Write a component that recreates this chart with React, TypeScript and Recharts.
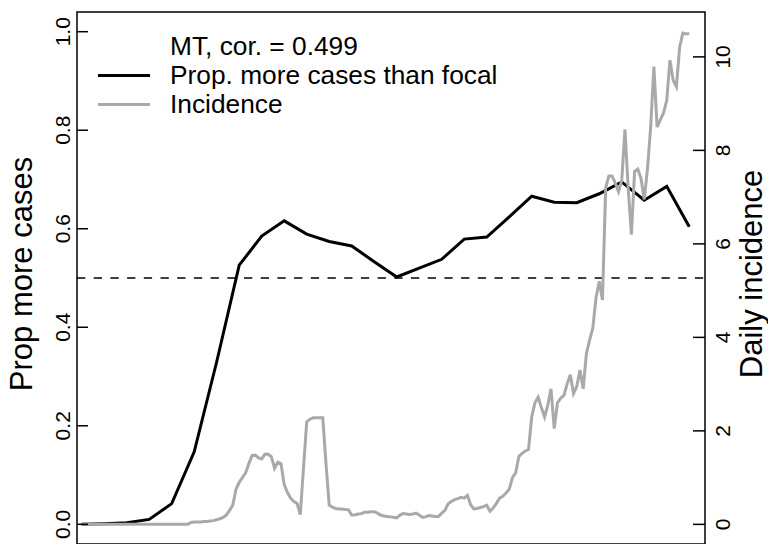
import { ComposedChart, Line, ReferenceArea, ReferenceLine, XAxis, YAxis } from "recharts";

const FONT = "'Liberation Sans', Arial, Helvetica, sans-serif";

// weekly proportion of neighbours with more cases than the focal unit
const propWeeks = [0, 7, 14, 21, 28, 35, 42, 49, 56, 63, 70, 77, 84, 91, 98, 105, 112, 119, 126, 133, 140, 147, 154, 161, 168, 175, 182, 189];
const propMore = [
  0, 0.001, 0.003, 0.01, 0.042, 0.147, 0.33, 0.526, 0.585, 0.616, 0.589, 0.574, 0.565, 0.533,
  0.502, 0.52, 0.538, 0.579, 0.583, 0.624, 0.666, 0.654, 0.653, 0.671, 0.695, 0.658, 0.686, 0.604,
];

// daily incidence, one value per day from day 0
const incidence = [
  0, 0, 0, 0, 0, 0, 0, 0, 0, 0, 0, 0, 0, 0, 0, 0, 0, 0, 0, 0, 0, 0, 0, 0, 0, 0, 0, 0, 0, 0, 0, 0, 0, 0,
  0.04, 0.05, 0.05, 0.05, 0.06, 0.06, 0.07,
  0.08, 0.1, 0.12, 0.15, 0.2, 0.3, 0.41,
  0.75, 0.9, 1.0, 1.1, 1.3, 1.47, 1.48,
  1.42, 1.4, 1.5, 1.5, 1.45, 1.2, 1.33,
  1.3, 0.85, 0.68, 0.56, 0.49, 0.45, 0.21,
  1.2, 2.19, 2.25, 2.28, 2.28, 2.28, 2.28,
  1.3, 0.41, 0.37, 0.34, 0.33, 0.33, 0.32,
  0.31, 0.2, 0.2, 0.22, 0.23, 0.26, 0.26,
  0.27, 0.27, 0.24, 0.2, 0.18, 0.17, 0.16,
  0.15, 0.14, 0.2, 0.23, 0.22, 0.21, 0.22,
  0.24, 0.2, 0.15, 0.16, 0.19, 0.18, 0.17,
  0.17, 0.24, 0.3, 0.44, 0.49, 0.53, 0.55,
  0.58, 0.56, 0.62, 0.42, 0.33, 0.34, 0.36,
  0.38, 0.41, 0.28, 0.35, 0.45, 0.56, 0.6,
  0.67, 0.75, 1.0, 1.1, 1.45, 1.52, 1.57,
  1.6, 2.3, 2.6, 2.72, 2.5, 2.3, 2.55,
  2.9, 2.05, 2.6, 2.7, 2.76, 3.0, 3.2,
  2.8, 2.95, 3.3, 2.9, 3.65, 3.94, 4.2,
  4.85, 5.2, 4.8, 7.2, 7.45, 7.45, 7.3,
  7.12, 7.36, 8.45, 7.2, 6.2, 7.55, 7.6,
  7.4, 6.95, 7.6, 8.5, 9.79, 8.5, 8.65,
  8.8, 9.07, 9.93, 9.5, 9.36, 10.2, 10.51,
  10.49, 10.5,
];

const leftTicks = [0, 0.2, 0.4, 0.6, 0.8, 1.0];
const rightTicks = [0, 2, 4, 6, 8, 10];
const corLabel = "MT, cor. = 0.499";
const leftTitle = "Prop more cases";
const rightTitle = "Daily incidence";

const X_DOMAIN: [number, number] = [-1.46, 193.9];
const LEFT_DOMAIN: [number, number] = [-0.04, 1.04];
const RIGHT_DOMAIN: [number, number] = [-0.42, 10.96];

const chartData = incidence.map((v, day) => {
  const w = propWeeks.indexOf(day);
  return { day, inc: v, prop: w >= 0 ? propMore[w] : null };
});

function LeftTick({ y, payload }: any) {
  return (
    <g>
      <line x1={77} x2={88} y1={y} y2={y} stroke="#000" strokeWidth={1.5} />
      <text
        x={63}
        y={y}
        transform={`rotate(-90 63 ${y})`}
        textAnchor="middle"
        dominantBaseline="central"
        fontSize={21}
        fontFamily={FONT}
        fill="#000"
      >
        {payload.value.toFixed(1)}
      </text>
    </g>
  );
}

function RightTick({ y, payload }: any) {
  return (
    <g>
      <line x1={693} x2={705} y1={y} y2={y} stroke="#000" strokeWidth={1.5} />
      <text
        x={723}
        y={y}
        transform={`rotate(-90 723 ${y})`}
        textAnchor="middle"
        dominantBaseline="central"
        fontSize={21}
        fontFamily={FONT}
        fill="#000"
      >
        {payload.value}
      </text>
    </g>
  );
}

function AxisTitle({ x, text }: { x: number; text: string }) {
  return (
    <text
      x={x}
      y={274}
      transform={`rotate(-90 ${x} 274)`}
      textAnchor="middle"
      dominantBaseline="central"
      fontSize={31}
      fontFamily={FONT}
      fill="#000"
    >
      {text}
    </text>
  );
}

function LegendRow({ top, color, label }: { top: number; color?: string; label: string }) {
  return (
    <div style={{ position: "absolute", left: 98, top, height: 30, display: "flex", alignItems: "center" }}>
      <div style={{ width: 52, height: 3, background: color ?? "transparent" }} />
      <div style={{ marginLeft: 20, fontSize: 26.3, lineHeight: "30px", whiteSpace: "nowrap" }}>{label}</div>
    </div>
  );
}

export default function App() {
  return (
    <div style={{ position: "absolute", left: 0, top: 0, width: 768, height: 544, background: "#fff", fontFamily: FONT }}>
      <ComposedChart
        width={768}
        height={544}
        data={chartData}
        margin={{ top: 12, right: 0, bottom: 0, left: 0 }}
        accessibilityLayer={false}
      >
        <XAxis dataKey="day" type="number" domain={X_DOMAIN} allowDataOverflow hide />
        <YAxis
          yAxisId="left"
          orientation="left"
          width={77}
          domain={LEFT_DOMAIN}
          ticks={leftTicks}
          interval={0}
          allowDataOverflow
          axisLine={false}
          tickLine={false}
          tickSize={0}
          tick={<LeftTick />}
        />
        <YAxis
          yAxisId="right"
          orientation="right"
          width={63}
          domain={RIGHT_DOMAIN}
          ticks={rightTicks}
          interval={0}
          allowDataOverflow
          axisLine={false}
          tickLine={false}
          tickSize={0}
          tick={<RightTick />}
        />
        <ReferenceLine
          yAxisId="left"
          y={0.5}
          stroke="#000"
          strokeWidth={1.5}
          strokeDasharray="8.3 8.4"
        />
        <Line
          yAxisId="left"
          dataKey="prop"
          type="linear"
          stroke="#000"
          strokeWidth={3}
          dot={false}
          activeDot={false}
          connectNulls
          isAnimationActive={false}
        />
        <Line
          yAxisId="right"
          dataKey="inc"
          type="linear"
          stroke="#A9A9A9"
          strokeWidth={3}
          dot={false}
          activeDot={false}
          isAnimationActive={false}
        />
        <ReferenceArea
          yAxisId="left"
          x1={X_DOMAIN[0]}
          x2={X_DOMAIN[1]}
          y1={LEFT_DOMAIN[0]}
          y2={LEFT_DOMAIN[1]}
          fill="none"
          fillOpacity={0}
          stroke="#000"
          strokeWidth={1.5}
        />
      </ComposedChart>
      <svg
        width={768}
        height={544}
        style={{ position: "absolute", left: 0, top: 0, pointerEvents: "none" }}
      >
        <AxisTitle x={21} text={leftTitle} />
        <AxisTitle x={751} text={rightTitle} />
      </svg>
      <LegendRow top={31} label={corLabel} />
      <LegendRow top={60} color="#000" label="Prop. more cases than focal" />
      <LegendRow top={89} color="#A9A9A9" label="Incidence" />
    </div>
  );
}
